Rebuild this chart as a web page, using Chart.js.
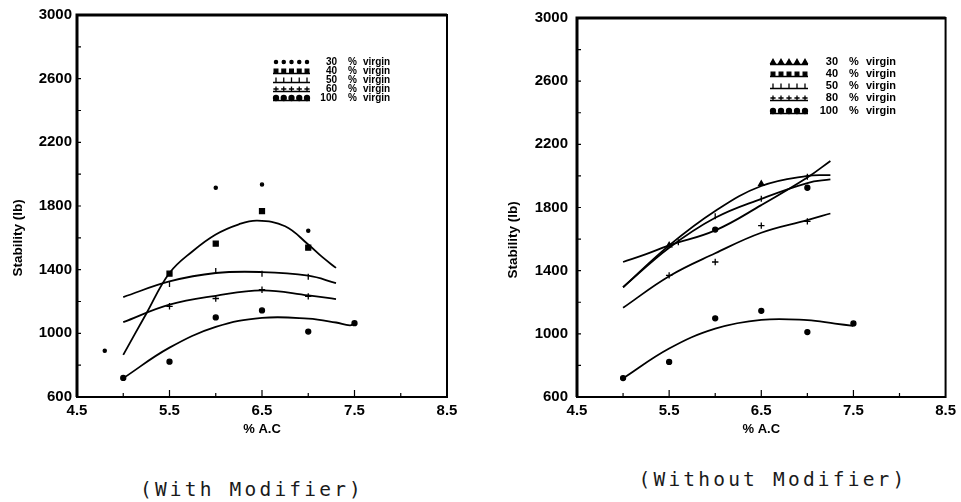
<!DOCTYPE html>
<html>
<head>
<meta charset="utf-8">
<script src="https://cdn.jsdelivr.net/npm/chart.js@4.4.1/dist/chart.umd.min.js"></script>
<style>
  html, body { margin: 0; padding: 0; background: #fff; }
  #wrap { position: relative; width: 961px; height: 502px; overflow: hidden; background: #fff; }
  .panel { position: absolute; top: 0; height: 437px; }
  .caption { position: absolute; font-family: "DejaVu Sans Mono", monospace; font-size: 19.5px; letter-spacing: 3.2px; color: #1a1a1a; white-space: nowrap; transform: translateX(-50%); }
</style>
</head>
<body>
<div id="wrap">
  <div class="panel" style="left:0;width:480px"><canvas id="withMod"></canvas></div>
  <div class="panel" style="left:480px;width:481px"><canvas id="withoutMod"></canvas></div>
  <div class="caption" style="left:252px;top:478px">(With Modifier)</div>
  <div class="caption" style="left:773px;top:468px">(Without Modifier)</div>
</div>
<script>
// axes
const xTicks = [4.5, 5.5, 6.5, 7.5, 8.5];
const yTicks = [600, 1000, 1400, 1800, 2200, 2600, 3000];
const xMinor = [5.0, 5.5, 6.0, 6.5, 7.0, 7.5, 8.0];
const xMajor = [5.5, 6.5, 7.5];
const yMinor = [800, 1000, 1200, 1400, 1600, 1800, 2000, 2200, 2400, 2600, 2800];

const labelsWith = ['30', '40', '50', '60', '100'];
const labelsWithout = ['30', '40', '50', '80', '100'];

// With Modifier - measured points
const w30Pts = [[4.8, 890], [6.0, 1915], [6.5, 1935], [7.0, 1645]];
const w40Pts = [[5.5, 1375], [6.0, 1564], [6.5, 1768], [7.0, 1538]];
const w50Pts = [[5.5, 1310], [6.0, 1391], [6.5, 1375], [7.0, 1356]];
const w60Pts = [[5.5, 1170], [6.0, 1219], [6.5, 1274], [7.0, 1232]];
const w100Pts = [[5.0, 720], [5.5, 822], [6.0, 1100], [6.5, 1144], [7.0, 1011], [7.5, 1064]];
// With Modifier - fitted curves
const w40Fit = [[5.0, 865], [5.25, 1125], [5.5, 1379], [5.75, 1516], [6.0, 1621], [6.25, 1685], [6.45, 1708], [6.75, 1673], [7.0, 1558], [7.15, 1480], [7.3, 1411]];
const w50Fit = [[5.0, 1228], [5.5, 1326], [6.0, 1379], [6.5, 1385], [7.0, 1362], [7.3, 1316]];
const w60Fit = [[5.0, 1070], [5.5, 1180], [6.0, 1236], [6.5, 1270], [7.0, 1238], [7.3, 1215]];
const w100Fit = [[5.0, 718], [5.5, 910], [6.0, 1040], [6.5, 1097], [7.0, 1092], [7.3, 1068], [7.45, 1050], [7.5, 1062]];

// Without Modifier - measured points
const n30Pts = [[5.5, 1560], [6.5, 1950]];
const n40Pts = [[6.0, 1660], [7.0, 1925]];
const n50Pts = [[5.6, 1580], [6.0, 1745], [6.5, 1855], [7.0, 1995]];
const n80Pts = [[5.5, 1370], [6.0, 1455], [6.5, 1685], [7.0, 1712]];
const n100Pts = [[5.0, 720], [5.5, 822], [6.0, 1098], [6.5, 1146], [7.0, 1011], [7.5, 1066]];
// Without Modifier - fitted curves
const n30Fit = [[5.0, 1295], [5.5, 1560], [6.0, 1778], [6.5, 1936], [7.0, 2000], [7.25, 2005]];
const n40Fit = [[5.0, 1455], [5.25, 1505], [5.5, 1560], [6.0, 1655], [6.5, 1815], [7.0, 1990], [7.25, 2095]];
const n50Fit = [[5.0, 1295], [5.5, 1545], [6.0, 1735], [6.5, 1855], [7.0, 1955], [7.25, 1978]];
const n80Fit = [[5.0, 1165], [5.5, 1365], [6.0, 1510], [6.5, 1640], [7.0, 1720], [7.25, 1762]];
const n100Fit = [[5.0, 718], [5.5, 907], [6.0, 1033], [6.5, 1089], [7.0, 1087], [7.3, 1065], [7.5, 1050]];

const toXY = arr => arr.map(p => ({ x: p[0], y: p[1] }));

// marker looks
const styles = {
    dot: { pointStyle: 'circle', radius: 1.6, rotation: 0 },
    square: { pointStyle: 'rect', radius: 3.5, rotation: 0 },
    tick: { pointStyle: 'line', radius: 3, rotation: 90 },
    cross: { pointStyle: 'cross', radius: 3.2, rotation: 0 },
    circle: { pointStyle: 'circle', radius: 2.5, rotation: 0 },
    tri: { pointStyle: 'triangle', radius: 3, rotation: 0 }
};

function pointSet(pts, st) {
    const s = styles[st];
    return {
        data: toXY(pts), showLine: false,
        pointStyle: s.pointStyle, pointRadius: s.radius, pointRotation: s.rotation,
        pointBackgroundColor: '#000', pointBorderColor: '#000', pointBorderWidth: 1.3
    };
}
function fitSet(pts) {
    return {
        data: toXY(pts), showLine: true, pointRadius: 0,
        borderColor: '#000', borderWidth: 1.8, tension: 0.4, fill: false
    };
}

// inner ticks + box
const framePlugin = {
    id: 'frame',
    afterDraw(chart) {
        const { ctx, chartArea: a, scales: { x, y } } = chart;
        ctx.save();
        ctx.strokeStyle = '#000';
        ctx.lineWidth = 2;
        ctx.strokeRect(a.left, a.top, a.right - a.left, a.bottom - a.top);
        // heavier top and left edges, like the print
        ctx.lineWidth = 3;
        ctx.beginPath();
        ctx.moveTo(a.left, a.bottom);
        ctx.lineTo(a.left, a.top);
        ctx.lineTo(a.right, a.top);
        ctx.stroke();
        ctx.lineWidth = 1.2;
        ctx.beginPath();
        xMinor.forEach(v => {
            const px = x.getPixelForValue(v);
            ctx.moveTo(px, a.bottom);
            ctx.lineTo(px, a.bottom - (xMajor.includes(v) ? 7 : 4));
        });
        yMinor.forEach(v => {
            const py = y.getPixelForValue(v);
            ctx.moveTo(a.left, py);
            ctx.lineTo(a.left + 4, py);
        });
        ctx.stroke();
        ctx.restore();
    }
};

// y title placed a bit below centre like the original
const yTitlePlugin = {
    id: 'yTitle',
    afterDraw(chart, args, opts) {
        const ctx = chart.ctx;
        ctx.save();
        ctx.translate(opts.x, opts.y);
        ctx.rotate(-Math.PI / 2);
        ctx.font = 'bold 13.5px "Liberation Sans", Arial, sans-serif';
        ctx.fillStyle = '#000';
        ctx.textAlign = 'center';
        ctx.textBaseline = 'middle';
        ctx.fillText(opts.text, 0, 0);
        ctx.restore();
    }
};

// little typed legend in the upper right
const paperLegend = {
    id: 'paperLegend',
    afterDraw(chart, args, o) {
        const ctx = chart.ctx;
        ctx.save();
        ctx.fillStyle = '#000';
        ctx.strokeStyle = '#000';
        o.items.forEach((it, i) => {
            const yy = o.rows[i];
            if (it.line) {
                ctx.lineWidth = 1.6;
                ctx.beginPath();
                ctx.moveTo(o.x0, yy + 2.5);
                ctx.lineTo(o.x1, yy + 2.5);
                ctx.stroke();
            }
            const s = styles[it.style];
            for (let k = 0; k < 5; k++) {
                const px = o.x0 + 3 + k * (o.x1 - o.x0 - 6) / 4;
                ctx.lineWidth = 1.3;
                Chart.helpers.drawPoint(ctx, {
                    pointStyle: s.pointStyle, radius: Math.min(s.radius, 2.6),
                    rotation: s.rotation, borderWidth: 1.3
                }, px, yy);
            }
            ctx.font = o.font;
            ctx.textBaseline = 'middle';
            ctx.textAlign = 'right';
            ctx.fillText(it.label, o.numRight, yy);
            ctx.textAlign = 'left';
            ctx.fillText('%', o.pctX, yy);
            ctx.fillText('virgin', o.virginX, yy);
        });
        ctx.restore();
    }
};

function buildChart(id, datasets, cfg) {
    return new Chart(document.getElementById(id), {
        type: 'scatter',
        data: { datasets: datasets },
        options: {
            responsive: true,
            maintainAspectRatio: false,
            animation: false,
            events: [],
            layout: { padding: { top: 15, right: cfg.padRight, bottom: 0, left: 0 } },
            plugins: {
                legend: { display: false },
                tooltip: { enabled: false },
                yTitle: cfg.yTitle,
                paperLegend: cfg.legend
            },
            scales: {
                x: {
                    type: 'linear', min: 4.5, max: 8.5,
                    afterBuildTicks: s => { s.ticks = xTicks.map(v => ({ value: v })); },
                    afterFit: s => { s.height = 40; },
                    grid: { display: false, drawTicks: false },
                    border: { display: false },
                    ticks: {
                        color: '#000', padding: 5, maxRotation: 0, autoSkip: false,
                        font: { family: '"Liberation Sans", Arial, sans-serif', size: 15, weight: 'bold' },
                        callback: v => Number(v).toFixed(1)
                    },
                    title: {
                        display: true, text: '% A.C', color: '#000', padding: 0,
                        font: { family: '"Liberation Sans", Arial, sans-serif', size: 13, weight: 'bold' }
                    }
                },
                y: {
                    type: 'linear', min: 600, max: 3000,
                    afterBuildTicks: s => { s.ticks = yTicks.map(v => ({ value: v })); },
                    afterFit: s => { s.width = cfg.yWidth; },
                    grid: { display: false, drawTicks: false },
                    border: { display: false },
                    ticks: {
                        color: '#000', padding: cfg.yPad, autoSkip: false,
                        font: { family: '"Liberation Sans", Arial, sans-serif', size: 15, weight: 'bold' },
                        callback: v => String(v)
                    }
                }
            }
        },
        plugins: [framePlugin, yTitlePlugin, paperLegend]
    });
}

// With Modifier
buildChart('withMod', [
    fitSet(w40Fit), fitSet(w50Fit), fitSet(w60Fit), fitSet(w100Fit),
    pointSet(w30Pts, 'dot'), pointSet(w40Pts, 'square'), pointSet(w50Pts, 'tick'),
    pointSet(w60Pts, 'cross'), pointSet(w100Pts, 'circle')
], {
    padRight: 33, yWidth: 77, yPad: 5,
    yTitle: { text: 'Stability (lb)', x: 18, y: 238 },
    legend: {
        x0: 273, x1: 310, numRight: 337, pctX: 348, virginX: 363,
        rows: [62, 71, 80, 89, 98],
        font: 'bold 10px "Liberation Sans", Arial, sans-serif',
        items: [
            { label: labelsWith[0], style: 'dot', line: false },
            { label: labelsWith[1], style: 'square', line: true },
            { label: labelsWith[2], style: 'tick', line: true },
            { label: labelsWith[3], style: 'cross', line: true },
            { label: labelsWith[4], style: 'circle', line: true }
        ]
    }
});

// Without Modifier
buildChart('withoutMod', [
    fitSet(n30Fit), fitSet(n40Fit), fitSet(n50Fit), fitSet(n80Fit), fitSet(n100Fit),
    pointSet(n30Pts, 'tri'), pointSet(n40Pts, 'circle'), pointSet(n50Pts, 'tick'),
    pointSet(n80Pts, 'cross'), pointSet(n100Pts, 'circle')
], {
    padRight: 11, yWidth: 97, yPad: 9,
    yTitle: { text: 'Stability (lb)', x: 33, y: 240 },
    legend: {
        x0: 290, x1: 328, numRight: 358, pctX: 369, virginX: 386,
        rows: [62, 74, 86, 98, 111],
        font: 'bold 11px "Liberation Sans", Arial, sans-serif',
        items: [
            { label: labelsWithout[0], style: 'tri', line: true },
            { label: labelsWithout[1], style: 'square', line: true },
            { label: labelsWithout[2], style: 'tick', line: true },
            { label: labelsWithout[3], style: 'cross', line: true },
            { label: labelsWithout[4], style: 'circle', line: true }
        ]
    }
});
</script>
</body>
</html>
